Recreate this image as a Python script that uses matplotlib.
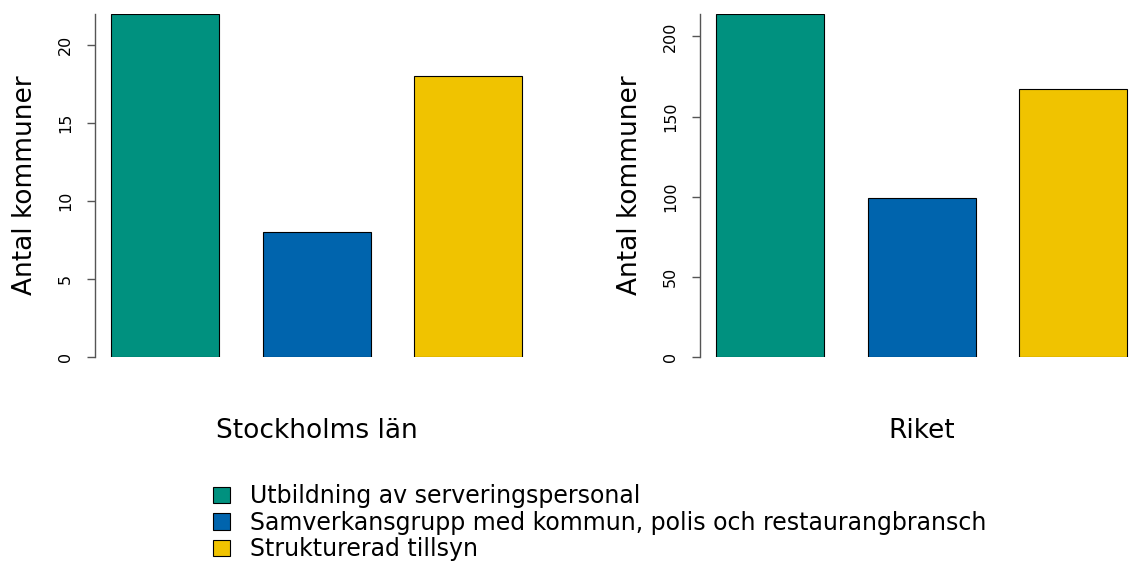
import matplotlib
matplotlib.use("Agg")
import matplotlib.pyplot as plt
from matplotlib.patches import Patch

# data
categories = ["Utbildning av serveringspersonal",
              "Samverkansgrupp med kommun, polis och restaurangbransch",
              "Strukturerad tillsyn"]
colors = ["#00917F", "#0064AD", "#F0C300"]
stockholm = [22, 8, 18]
riket = [214, 99, 167]
panel_titles = ["Stockholms län", "Riket"]
stockholm_ticks = [0, 5, 10, 15, 20]
riket_ticks = [0, 50, 100, 150, 200]

plt.rcParams['font.family'] = ['DejaVu Sans']

W, H = 1133, 563
fig = plt.figure(figsize=(W / 100, H / 100), dpi=100)

def panel(x_axis, values, ticks, title):
    # bar spacing 151.5 px, axis line 70 px left of first bar centre
    step = 151.5
    width = step * 2 + 2 * 70
    ax = fig.add_axes([x_axis / W, (H - 357) / H, width / W, 343 / H])
    ax.bar(range(len(values)), values, width=108 / step, color=colors,
           edgecolor="black", linewidth=0.8)
    ax.set_xlim(-70 / step, 2 + 70 / step)
    ax.set_ylim(0, max(values))
    for s in ["top", "right", "bottom"]:
        ax.spines[s].set_visible(False)
    ax.spines["left"].set_color("#555555")
    ax.spines["left"].set_linewidth(1)
    ax.set_xticks([])
    ax.set_yticks(ticks)
    ax.set_yticklabels([str(t) for t in ticks], rotation=90, va="center")
    ax.tick_params(axis="y", length=6, width=1, color="#555555",
                   labelsize=11.5, pad=10)
    ax.set_ylabel("Antal kommuner", fontsize=19, labelpad=14)
    ax.set_xlabel(title, fontsize=19, labelpad=44)
    return ax

panel(95, stockholm, stockholm_ticks, panel_titles[0])
panel(700, riket, riket_ticks, panel_titles[1])

handles = [Patch(facecolor=c, edgecolor="black", linewidth=0.8) for c in colors]
fig.legend(handles, categories, loc="upper left",
           bbox_to_anchor=(204 / W, 1 - 475 / H), frameon=False,
           fontsize=17, handlelength=0.7, handleheight=0.7,
           handletextpad=0.85, labelspacing=0.1, borderaxespad=0)

fig.savefig("out.png", dpi=100)
